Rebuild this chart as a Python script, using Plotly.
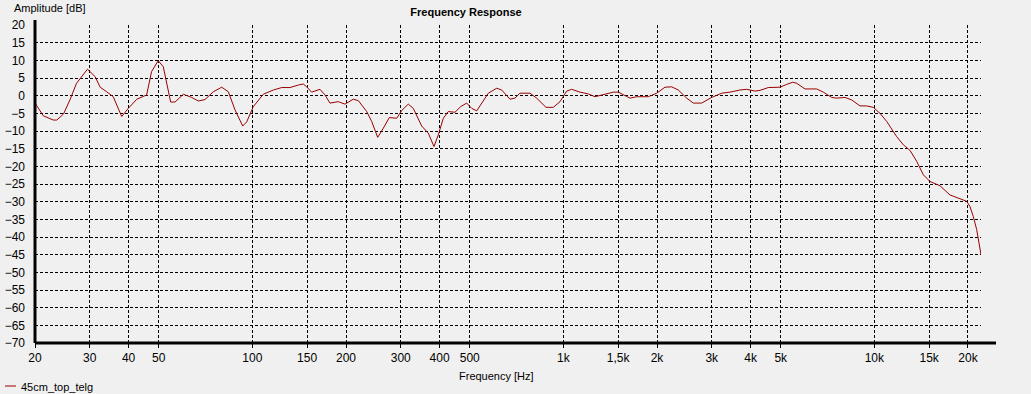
import plotly.graph_objects as go

# Frequency response data (Hz, dB)
freq_hz = [20, 20.75, 21.27, 22.9, 23.5, 24.7, 25.9, 27.2, 29.5, 31.2, 32.4, 34.0, 35.7, 38.0, 39.9,
           42.5, 44.1, 45.7, 47.4, 49.8, 51.7, 53.0, 54.6, 56.4, 60.0, 63.8, 67.0, 70.4, 74.9, 79.7,
           83.7, 87.9, 93.1, 95.9, 100.7, 108.4, 116.8, 124.3, 132.1, 140.5, 145.8, 149.5, 155.1,
           165.0, 171.2, 177.6, 188.9, 198.5, 211.1, 219.1, 233.2, 241.9, 252.9, 263.7, 275.6,
           291.1, 302.1, 317.2, 329.2, 350.3, 367.8, 383.7, 396.1, 411.1, 426.5, 448.2, 467.6,
           488.8, 507.3, 526.4, 546.2, 573.6, 610.3, 633.3, 673.5, 698.8, 725.2, 780.8, 820.6,
           879.2, 928.0, 975.3, 1024.8, 1063.4, 1130.6, 1202.2, 1263.7, 1343.6, 1447.1, 1501.6,
           1578.1, 1637.6, 1720.9, 1875.2, 1995.6, 2122, 2230, 2342, 2492, 2617, 2784, 2998,
           3230, 3434, 3698, 3885, 4133, 4288, 4560, 4972, 5227, 5464, 5628, 5985, 6525, 6852,
           7292, 7568, 8047, 8456, 8989, 9446, 9920, 10425, 10957, 11798, 12390, 13020, 13683,
           14369, 15100, 16255, 17504, 18851, 19808, 20298, 20800, 21332, 21698, 22022]
level_db = [-2.1, -4.5, -5.7, -6.9, -6.9, -5.2, -1.2, 3.5, 7.5, 5.4, 2.4, 1.1, -0.3, -5.9, -3.6,
            -1.0, -0.3, 0.2, 6.8, 9.9, 8.2, 3.5, -1.8, -1.8, 0.4, -0.5, -1.5, -1.1, 1.1, 2.4,
            1.1, -4.0, -8.6, -7.4, -3.1, 0.4, 1.6, 2.3, 2.3, 3.0, 3.3, 2.5, 1.0,
            1.8, 0.2, -2.1, -1.7, -2.4, -1.0, -1.4, -4.5, -7.3, -11.8, -9.2, -6.2,
            -6.4, -4.2, -2.4, -3.6, -8.6, -10.6, -14.4, -11.1, -6.4, -4.5, -4.7, -3.1,
            -2.1, -3.6, -4.3, -2.1, 0.7, 2.1, 1.6, -1.0, -0.7, 0.7, 0.7, -0.7,
            -3.3, -3.3, -1.7, 1.3, 1.8, 1.0, 0.5, -0.3, 0.2, 1.0, 1.0,
            -0.1, -0.7, -0.3, -0.3, 0.7, 2.4, 2.5, 1.6, -0.7, -2.1, -2.1, -0.5,
            0.7, 1.0, 1.6, 1.8, 1.3, 1.5, 2.3, 2.4, 3.2, 3.8, 3.5, 1.9, 1.9, 1.0,
            -0.5, -0.7, -0.5, -1.2, -2.9, -2.9, -3.3, -5.0, -7.3, -11.6, -13.9, -15.5, -18.6,
            -22.4, -24.3, -25.5, -28.1, -29.3, -29.9, -31.4, -34.2, -37.9, -41.7, -45.0]

x_tick_vals = [20, 30, 40, 50, 100, 150, 200, 300, 400, 500, 1000, 1500, 2000, 3000, 4000,
               5000, 10000, 15000, 20000]
x_tick_text = ["20", "30", "40", "50", "100", "150", "200", "300", "400", "500", "1k", "1,5k",
               "2k", "3k", "4k", "5k", "10k", "15k", "20k"]
y_tick_vals = list(range(-70, 25, 5))
series_name = "45cm_top_telg"

FONT = "Liberation Sans"
FS = 11
LINE_COLOR = "#990000"
BG = "#F0F0F0"

fig = go.Figure()
fig.add_trace(go.Scatter(x=freq_hz, y=level_db, mode="lines",
                         line=dict(color=LINE_COLOR, width=1), showlegend=False,
                         name=series_name))

fig.update_layout(
    width=1031, height=394,
    margin=dict(l=35, r=50, t=25, b=51),
    paper_bgcolor=BG, plot_bgcolor=BG,
    font=dict(family=FONT, size=FS, color="black"),
    title=dict(text="<b>Frequency Response</b>", x=466 / 1031, xref="container",
               xanchor="center", y=1 - 12 / 394, yref="container", yanchor="middle",
               font=dict(family=FONT, size=FS, color="black")),
    xaxis=dict(type="log", range=[1.30103, 4.34285], tickvals=x_tick_vals,
               ticktext=x_tick_text, showgrid=True, gridcolor="black", gridwidth=1,
               griddash="3px,2px", ticks="outside", ticklen=4, tickcolor="black",
               showline=False, zeroline=False, tickfont=dict(size=12), automargin=False),
    yaxis=dict(range=[-70, 20], tickvals=y_tick_vals, showgrid=True, gridcolor="black",
               gridwidth=1, griddash="3px,2px", ticks="", showline=False, zeroline=False,
               ticklabelstandoff=9, tickfont=dict(size=12), automargin=False),
    shapes=[
        dict(type="line", xref="paper", yref="paper", x0=0, x1=(996 - 35) / 946, y0=0, y1=0,
             line=dict(color="black", width=3)),
        dict(type="line", xref="paper", yref="paper", x0=0, x1=0, y0=0, y1=1 + 5 / 318,
             line=dict(color="black", width=3)),
        dict(type="line", xref="paper", yref="paper", x0=(5 - 35) / 946, x1=(16 - 35) / 946,
             y0=(343 - 386) / 318, y1=(343 - 386) / 318, line=dict(color=LINE_COLOR, width=1)),
    ],
    annotations=[
        dict(text="Amplitude [dB]", xref="paper", yref="paper", x=(12 - 35) / 946,
             y=1 + 17 / 318, xanchor="left", yanchor="middle", showarrow=False,
             font=dict(size=FS)),
        dict(text="Frequency [Hz]", xref="paper", yref="paper", x=(496 - 35) / 946,
             y=(343 - 376) / 318, xanchor="center", yanchor="middle", showarrow=False,
             font=dict(size=FS)),
        dict(text=series_name, xref="paper", yref="paper", x=(19 - 35) / 946,
             y=(343 - 387) / 318, xanchor="left", yanchor="middle", showarrow=False,
             font=dict(size=FS)),
    ],
)

fig.write_html("out.html", config={"displayModeBar": False},
               post_script="document.body.style.margin='0';document.body.style.overflow='hidden';")
